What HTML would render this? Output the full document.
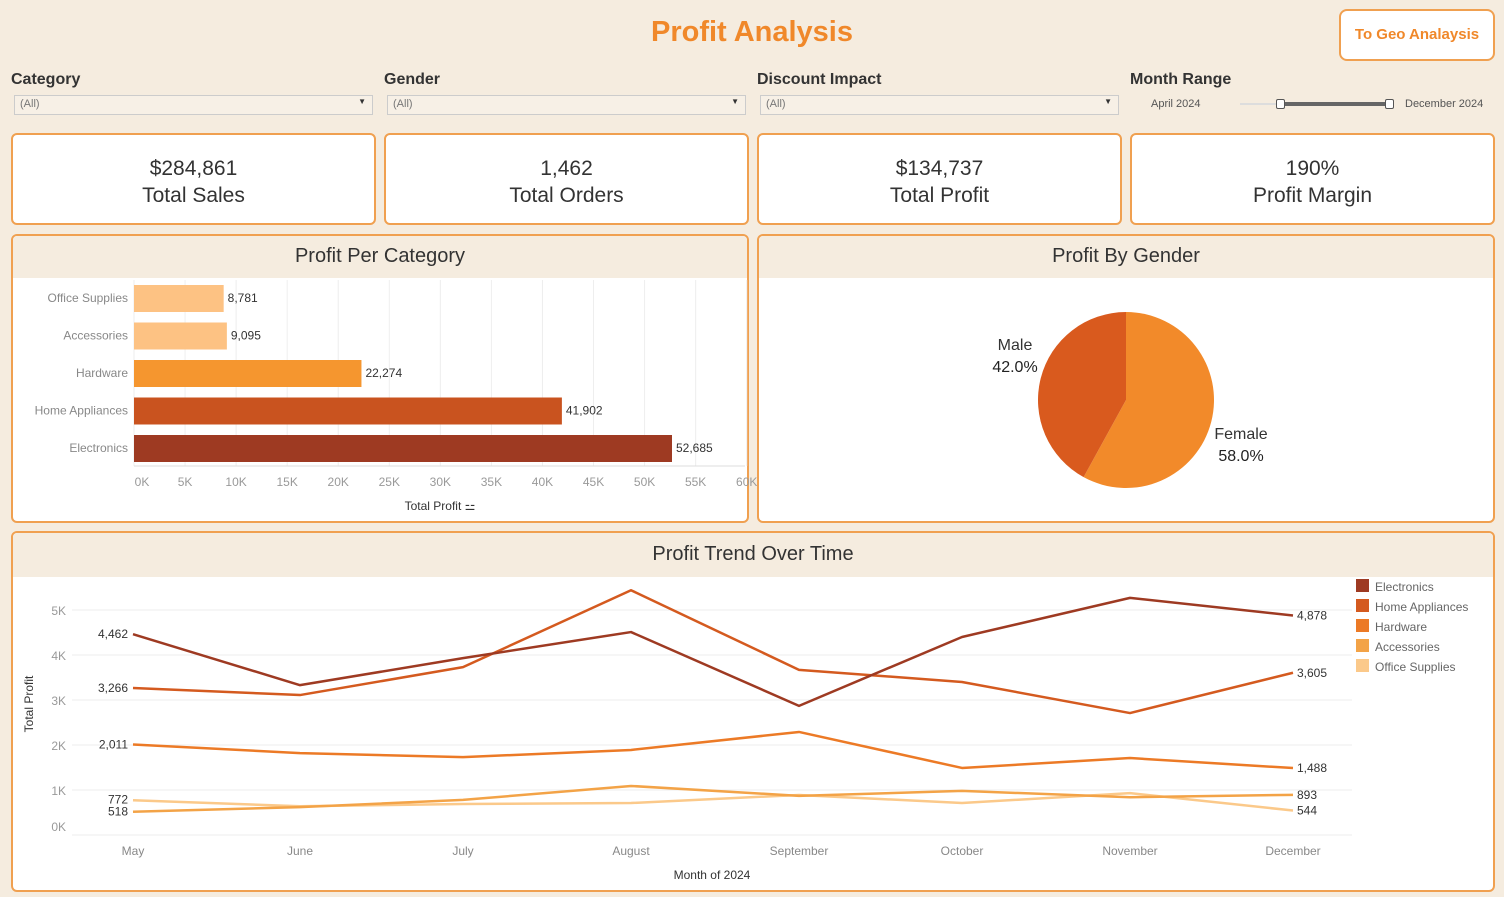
<!DOCTYPE html>
<html><head><meta charset="utf-8">
<style>
*{box-sizing:border-box;margin:0;padding:0}
body{width:1504px;height:897px;background:#f5ecdf;font-family:"Liberation Sans",sans-serif;position:relative;overflow:hidden;color:#333}
.abs{position:absolute}
.title{left:0;width:1504px;top:16px;text-align:center;font-size:29px;font-weight:bold;color:#f0882a}
.btn{left:1339px;top:9px;width:156px;height:52px;border:2px solid #f0a050;border-radius:8px;background:#fff;color:#f0882a;font-weight:bold;font-size:15px;text-align:center;line-height:48px}
.flabel{font-size:16px;font-weight:bold;color:#333;top:71px}
.dd{top:95px;height:20px;border:1px solid #ccc;background:#f7f0e6;font-size:11px;color:#777;padding:2px 5px}
.dd span{position:absolute;right:6px;top:1px;font-size:8px;color:#333}
.kpi{top:133px;height:92px;background:#fff;border:2px solid #f0a050;border-radius:6px;text-align:center;font-size:21px;color:#333;padding-top:20px;line-height:27px}
.card{background:#fff;border:2px solid #f0a050;border-radius:6px;overflow:hidden}
.card .hd{height:42px;background:#f5ecdf;text-align:center;font-size:20px;line-height:40px;color:#333}
</style></head><body>
<div class="abs title">Profit Analysis</div>
<div class="abs btn">To Geo Analaysis</div>

<div class="abs flabel" style="left:11px">Category</div>
<div class="abs dd" style="left:14px;width:359px">(All)<span>▼</span></div>
<div class="abs flabel" style="left:384px">Gender</div>
<div class="abs dd" style="left:387px;width:359px">(All)<span>▼</span></div>
<div class="abs flabel" style="left:757px">Discount Impact</div>
<div class="abs dd" style="left:760px;width:359px">(All)<span>▼</span></div>
<div class="abs flabel" style="left:1130px">Month Range</div>
<div class="abs" style="left:1151px;top:98px;font-size:11px;color:#555">April 2024</div>
<div class="abs" style="left:1405px;top:98px;font-size:11px;color:#555">December 2024</div>
<div class="abs" style="left:1240px;top:103px;width:150px;height:2px;background:#ddd"></div>
<div class="abs" style="left:1281px;top:102px;width:109px;height:4px;background:#666"></div>
<div class="abs" style="left:1276px;top:99px;width:9px;height:10px;border:1px solid #555;background:#fff;border-radius:2px"></div>
<div class="abs" style="left:1385px;top:99px;width:9px;height:10px;border:1px solid #555;background:#fff;border-radius:2px"></div>

<div class="abs kpi" style="left:11px;width:365px">$284,861<br>Total Sales</div>
<div class="abs kpi" style="left:384px;width:365px">1,462<br>Total Orders</div>
<div class="abs kpi" style="left:757px;width:365px">$134,737<br>Total Profit</div>
<div class="abs kpi" style="left:1130px;width:365px">190%<br>Profit Margin</div>

<div class="abs card" style="left:11px;top:234px;width:738px;height:289px">
<div class="hd">Profit Per Category</div></div>
<div class="abs card" style="left:757px;top:234px;width:738px;height:289px">
<div class="hd">Profit By Gender</div></div>
<div class="abs card" style="left:11px;top:531px;width:1484px;height:361px">
<div class="hd" style="height:44px;line-height:42px">Profit Trend Over Time</div></div>

<svg class="abs" style="left:0;top:0" width="1504" height="897" id="charts" font-family="Liberation Sans, sans-serif"></svg>

<script>
const barCats=["Office Supplies","Accessories","Hardware","Home Appliances","Electronics"];
const barVals=[8781,9095,22274,41902,52685];
const barColors=["#fdc283","#fdc283","#f5962f","#c9531f","#9e3a22"];
const barTicks=[0,5000,10000,15000,20000,25000,30000,35000,40000,45000,50000,55000,60000];

const genders=["Male","Female"];
const genderPct=[42.0,58.0];

const months=["May","June","July","August","September","October","November","December"];
const seriesNames=["Electronics","Home Appliances","Hardware","Accessories","Office Supplies"];
const sElectronics=[4462,3330,3930,4510,2870,4400,5270,4878];
const sHomeApp=[3266,3110,3730,5440,3670,3400,2710,3605];
const sHardware=[2011,1820,1730,1890,2290,1490,1710,1488];
const sAccessories=[518,620,780,1090,870,980,840,893];
const sOffice=[772,640,690,710,890,710,930,544];
const lineTicks=[0,1000,2000,3000,4000,5000];
const lineColors=["#9e3a22","#d45a1f","#ec7a26","#f3a347","#fbc98a"];

const svg=document.getElementById('charts');
const NS="http://www.w3.org/2000/svg";
function mk(tag,attrs,parent){const e=document.createElementNS(NS,tag);for(const k in attrs)e.setAttribute(k,attrs[k]);(parent||svg).appendChild(e);return e;}
function txt(x,y,s,attrs){const t=mk('text',Object.assign({x:x,y:y},attrs||{}));t.textContent=s;return t;}
const fmt=v=>v.toLocaleString('en-US');

// Bar chart
const bx=v=>134+v*(538/52685);
const by=i=>284+i*37.5;
barTicks.forEach(t=>{
  const l=mk('line',{x1:bx(t),x2:bx(t),y1:280,y2:466,stroke:'#eee'});
  
  
  const tl=txt(bx(t)+(t===0?8:0),486,(t/1000)+'K',{'font-size':12,fill:'#999','text-anchor':'middle'});
  
  
});
mk('line',{x1:134,x2:745,y1:466,y2:466,stroke:'#ddd'});
barCats.forEach((c,i)=>{
  const cl=txt(128,by(i)+18,c,{'font-size':12,fill:'#888','text-anchor':'end'});
  
  
  const r=mk('rect',{x:bx(0),y:by(i)+1,width:bx(barVals[i])-bx(0),height:27,fill:barColors[i]});
  
  
  const vl=txt(bx(barVals[i])+4,by(i)+18,fmt(barVals[i]),{'font-size':12,fill:'#333'});
  
  
});
const bxt=txt(440,510,'Total Profit  ⚍',{'font-size':12,fill:'#333','text-anchor':'middle'});



// Pie
const cx=1126,cy=400,R=88;
let start=0;
const pieColors=["#d95a1e","#f28a2a"];
const order=[1,0];
let angles={};
// Female clockwise from top, Male continues
order.forEach(i=>{
  const a0=start,a1=start+genderPct[i]/100*2*Math.PI;
  angles[i]=[a0,a1];
  const p=a=>[cx+R*Math.sin(a),cy-R*Math.cos(a)];
  const [x0,y0]=p(a0),[x1,y1]=p(a1);
  const large=(a1-a0)>Math.PI?1:0;
  const path=mk('path',{d:`M${cx},${cy} L${x0},${y0} A${R},${R} 0 ${large} 1 ${x1},${y1} Z`,fill:pieColors[i]});
  
  
  start=a1;
});
const ml=txt(1015,350,'Male',{'font-size':16,fill:'#333','text-anchor':'middle'});

const mp=txt(1015,372,genderPct[0].toFixed(1)+'%',{'font-size':16,fill:'#222','text-anchor':'middle'});

const fl=txt(1241,439,'Female',{'font-size':16,fill:'#333','text-anchor':'middle'});

const fp=txt(1241,461,genderPct[1].toFixed(1)+'%',{'font-size':16,fill:'#222','text-anchor':'middle'});


// Line chart
const lx=i=>[133,300,463,631,799,962,1130,1293][i];
const ly=v=>835-v*0.045;
lineTicks.forEach(t=>{
  const g=mk('line',{x1:72,x2:1352,y1:ly(t),y2:ly(t),stroke:'#eee'});
  
  const tl=txt(66,t===0?ly(t)-4:ly(t)+5,(t/1000)+'K',{'font-size':12,fill:'#999','text-anchor':'end'});
  
});
months.forEach((m,i)=>{
  const ml2=txt(lx(i),855,m,{'font-size':12,fill:'#888','text-anchor':'middle'});
  
});
const yt=txt(0,0,'Total Profit',{'font-size':12,fill:'#333','text-anchor':'middle',transform:'translate(33,704) rotate(-90)'});

const xt=txt(712,879,'Month of 2024',{'font-size':12,fill:'#333','text-anchor':'middle'});

const allSeries=[sElectronics,sHomeApp,sHardware,sAccessories,sOffice];
[4,3,2,1,0].forEach(k=>{
  const s=allSeries[k];
  const pl=mk('polyline',{points:s.map((v,i)=>lx(i)+','+ly(v)).join(' '),fill:'none',stroke:lineColors[k],'stroke-width':2.5,'stroke-linejoin':'round'});
  
  
});
// end labels
const startLabels=[0,1,2,3,4];
startLabels.forEach(k=>{
  const s=allSeries[k];
  let y0=ly(s[0])+4;
  if(k===3) y0=ly(s[0])+4; if(k===4) y0=ly(s[0])+3;
  const a=txt(128,y0,fmt(s[0]),{'font-size':12,fill:'#333','text-anchor':'end'});
  
  const b=txt(1297,ly(s[7])+4,fmt(s[7]),{'font-size':12,fill:'#333'});
  
});
// legend
seriesNames.forEach((n,i)=>{
  const r=mk('rect',{x:1356,y:579+i*20,width:13,height:13,fill:lineColors[i]});
  
  const t=txt(1375,591+i*20,n,{'font-size':12,fill:'#666'});
  
});
</script>
</body></html>
